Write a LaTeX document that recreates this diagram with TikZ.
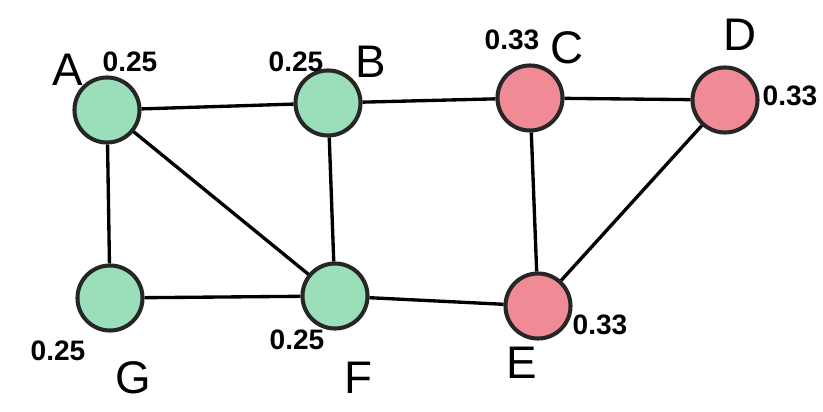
\documentclass[tikz,border=0pt]{standalone}
\usepackage{fontspec}
\setmainfont{Liberation Sans}
\usepackage{tikz}
\usetikzlibrary{backgrounds}
\definecolor{greennode}{HTML}{9ADFBA}
\definecolor{rednode}{HTML}{F08A95}

\begin{document}
\begin{tikzpicture}[x=0.01cm,y=-0.01cm,line width=0.95pt,
  vertex/.style={circle,draw=black!85,line width=1.15pt,minimum size=0.65cm,inner sep=0pt},
  greenvertex/.style={vertex,fill=greennode},
  redvertex/.style={vertex,fill=rednode},
  letterlabel/.style={font=\fontsize{13}{13}\selectfont},
  ranklabel/.style={font=\fontsize{8}{8}\selectfont\bfseries}]
\useasboundingbox (0,0) rectangle (823,412);
\node[greenvertex] (A) at (107,110) {};
\node[greenvertex] (B) at (328,103) {};
\node[redvertex] (C) at (530,98) {};
\node[redvertex] (D) at (725,100) {};
\node[greenvertex] (G) at (110,298) {};
\node[greenvertex] (F) at (335,296) {};
\node[redvertex] (E) at (538,306) {};
\draw (A) -- (B);
\draw (B) -- (C);
\draw (C) -- (D);
\draw (A) -- (G);
\draw (A) -- (F);
\draw (B) -- (F);
\draw (G) -- (F);
\draw (F) -- (E);
\draw (C) -- (E);
\draw (D) -- (E);
% labels
\node[letterlabel] (nA) at (68,70) {A};
\node[letterlabel] (nB) at (371,62) {B};
\node[letterlabel] (nC) at (567,48) {C};
\node[letterlabel] (nD) at (740,35) {D};
\node[letterlabel] (nG) at (133,378) {G};
\node[letterlabel] (nF) at (358,378) {F};
\node[letterlabel] (nE) at (522,363) {E};
\node[ranklabel] (rA) at (130,62) {0.25};
\node[ranklabel] (rB) at (296,62) {0.25};
\node[ranklabel] (rC) at (512,40) {0.33};
\node[ranklabel] (rD) at (790,96) {0.33};
\node[ranklabel] (rG) at (58,351) {0.25};
\node[ranklabel] (rF) at (297,340) {0.25};
\node[ranklabel] (rE) at (600,325) {0.33};
\end{tikzpicture}
\end{document}
